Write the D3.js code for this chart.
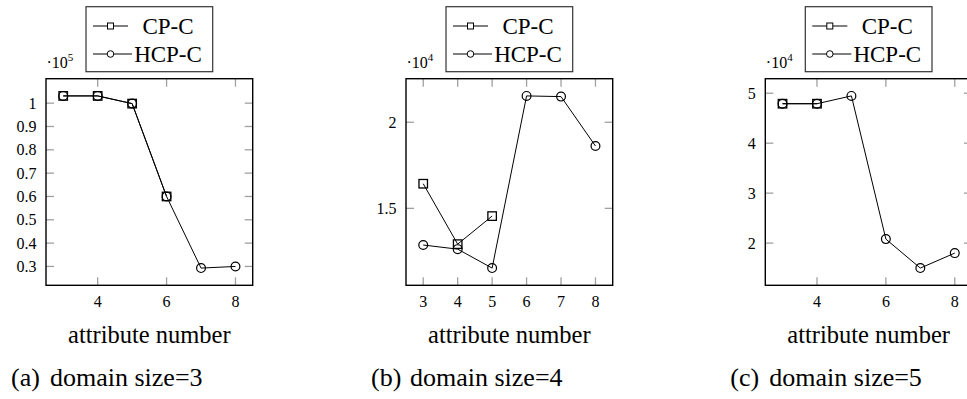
<!DOCTYPE html>
<html>
<head>
<meta charset="utf-8">
<script src="https://cdn.jsdelivr.net/npm/d3@7"></script>
<style>
  html, body { margin: 0; padding: 0; background: #fff; }
</style>
</head>
<body>
<svg id="chart" width="967" height="399"></svg>
<script>
// Attribute numbers on the x axis
const attributeNumbers = [3, 4, 5, 6, 7, 8];

// Panel (a): domain size = 3
const cpA = [103100, 103100, 99800, 60000];
const hcpA = [103100, 103100, 99800, 60000, 29300, 30000];
const yTicksA = [0.3, 0.4, 0.5, 0.6, 0.7, 0.8, 0.9, 1];
const xTicksA = [4, 6, 8];

// Panel (b): domain size = 4
const cpB = [16430, 12920, 14550];
const hcpB = [12870, 12630, 11530, 21530, 21490, 18620];
const yTicksB = [1.5, 2];
const xTicksB = [3, 4, 5, 6, 7, 8];

// Panel (c): domain size = 5
const cpC = [47900, 47900];
const hcpC = [47900, 47900, 49460, 20800, 15000, 18000];
const yTicksC = [2, 3, 4, 5];
const xTicksC = [4, 6, 8];

const seriesNames = ["CP-C", "HCP-C"];
const captions = ["(a)", "(b)", "(c)"];
const captionTexts = ["domain size=3", "domain size=4", "domain size=5"];
const exponents = [5, 4, 4];
const xLabel = "attribute number";

const panels = [
  { cp: cpA, hcp: hcpA, yTicks: yTicksA, xTicks: xTicksA, left: 46 },
  { cp: cpB, hcp: hcpB, yTicks: yTicksB, xTicks: xTicksB, left: 406 },
  { cp: cpC, hcp: hcpC, yTicks: yTicksC, xTicks: xTicksC, left: 765.3 }
];

const svg = d3.select("#chart");
const plotW = 206.7, plotTop = 78.7, plotBottom = 285.3;
const tickGrey = "#a0a0a0";

// Serif text helper
function label(parent, x, y, size, str, anchor) {
  return parent.append("text")
    .attr("x", x).attr("y", y)
    .attr("text-anchor", anchor || "start")
    .attr("font-family", "'Liberation Serif', 'Times New Roman', serif")
    .attr("font-size", size)
    .text(str);
}

panels.forEach((p, i) => {
  const exp = exponents[i];
  const factor = Math.pow(10, exp);
  const all = p.hcp.concat(p.cp);
  const [lo, hi] = d3.extent(all);
  const pad = (hi - lo) * 0.1;

  const x = d3.scaleLinear().domain([2.5, 8.5]).range([p.left, p.left + plotW]);
  const y = d3.scaleLinear().domain([lo - pad, hi + pad]).range([plotBottom, plotTop]);

  const g = svg.append("g");

  // Inward ticks on all four sides
  const tickLen = 8;
  const ticksG = g.append("g").attr("stroke", tickGrey).attr("stroke-width", 1.3);
  p.xTicks.forEach(t => {
    ticksG.append("line").attr("x1", x(t)).attr("x2", x(t)).attr("y1", plotBottom).attr("y2", plotBottom - tickLen);
    ticksG.append("line").attr("x1", x(t)).attr("x2", x(t)).attr("y1", plotTop).attr("y2", plotTop + tickLen);
  });
  p.yTicks.forEach(t => {
    const yy = y(t * factor);
    ticksG.append("line").attr("x1", p.left).attr("x2", p.left + tickLen).attr("y1", yy).attr("y2", yy);
    ticksG.append("line").attr("x1", p.left + plotW).attr("x2", p.left + plotW - tickLen).attr("y1", yy).attr("y2", yy);
  });

  // Tick labels
  p.xTicks.forEach(t => label(g, x(t), 306.5, 16, d3.format("d")(t), "middle"));
  p.yTicks.forEach(t => label(g, p.left - 9.5, y(t * factor) + 5.5, 16, String(t), "end"));

  // Exponent multiplier
  const m = label(g, p.left + 0.5, 68, 16, "");
  m.append("tspan").text("\u00b710");
  m.append("tspan").attr("font-size", 11).attr("dy", -7).text(String(exp));

  // Series lines
  const line = d3.line().x((d, j) => x(attributeNumbers[j])).y(d => y(d));
  g.append("path").datum(p.cp).attr("d", line).attr("fill", "none").attr("stroke", "#000").attr("stroke-width", 1);
  g.append("path").datum(p.hcp).attr("d", line).attr("fill", "none").attr("stroke", "#000").attr("stroke-width", 1);

  // Markers
  const sq = 8.5;
  g.selectAll(null).data(p.cp).join("rect")
    .attr("x", (d, j) => x(attributeNumbers[j]) - sq / 2)
    .attr("y", d => y(d) - sq / 2)
    .attr("width", sq).attr("height", sq)
    .attr("fill", "none").attr("stroke", "#000").attr("stroke-width", 1.3);
  g.selectAll(null).data(p.hcp).join("circle")
    .attr("cx", (d, j) => x(attributeNumbers[j]))
    .attr("cy", d => y(d))
    .attr("r", 4.4)
    .attr("fill", "none").attr("stroke", "#000").attr("stroke-width", 1.2);

  // Frame
  g.append("rect").attr("x", p.left).attr("y", plotTop).attr("width", plotW).attr("height", plotBottom - plotTop)
    .attr("fill", "none").attr("stroke", "#000").attr("stroke-width", 1.4);

  // Axis label
  label(g, p.left + plotW / 2, 343, 24.5, xLabel, "middle");

  // Caption
  const capX = p.left - 35;
  label(g, capX, 386, 26, captions[i]);
  label(g, capX + 39, 386, 26, captionTexts[i]);

  // Legend
  const lx = p.left + 40, ly = 6.7, lw = 126.7, lh = 65;
  const lg = g.append("g");
  lg.append("rect").attr("x", lx).attr("y", ly).attr("width", lw).attr("height", lh)
    .attr("fill", "#fff").attr("stroke", "#333").attr("stroke-width", 1.2);
  const rows = [26, 54];
  seriesNames.forEach((name, k) => {
    const ry = rows[k];
    lg.append("line").attr("x1", lx + 7).attr("x2", lx + (k === 0 ? 42 : 46))
      .attr("y1", ry).attr("y2", ry).attr("stroke", "#000").attr("stroke-width", 1);
    const cx = lx + 24.5;
    if (k === 0) {
      lg.append("rect").attr("x", cx - 3).attr("y", ry - 3).attr("width", 6).attr("height", 6)
        .attr("fill", "#fff").attr("stroke", "#000").attr("stroke-width", 1);
    } else {
      lg.append("circle").attr("cx", cx).attr("cy", ry).attr("r", 3.3)
        .attr("fill", "#fff").attr("stroke", "#000").attr("stroke-width", 1);
    }
    label(lg, lx + 82, ry + 7.5, 23, name, "middle");
  });
});
</script>
</body>
</html>
